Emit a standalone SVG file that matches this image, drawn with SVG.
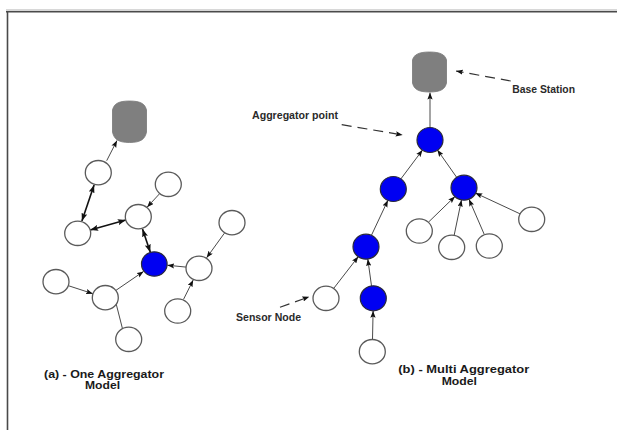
<svg xmlns="http://www.w3.org/2000/svg" width="617" height="430" viewBox="0 0 617 430">
  <style>
    .frame { stroke: #4a4a4a; stroke-width: 1.6; fill: none; }
    .frame-hi { stroke: #b0b0b0; stroke-width: 1; fill: none; }
    .sensor { fill: #ffffff; stroke: #5a5a5a; stroke-width: 1.3; }
    .agg { fill: #0000f2; stroke: #2a2a3a; stroke-width: 1.2; }
    .base { fill: #7f7f7f; stroke: #777777; stroke-width: 0.8; }
    .link { stroke: #4a4a4a; stroke-width: 1; fill: none; marker-end: url(#tip); }
    .duplex { stroke: #111111; stroke-width: 1.6; fill: none; marker-start: url(#tipb); marker-end: url(#tipb); }
    .pointer { stroke: #333333; stroke-width: 1.2; fill: none; stroke-dasharray: 10 6; marker-end: url(#tip); }
    .label { font-family: "Liberation Sans", Arial, sans-serif; font-weight: bold; font-size: 10.3px; fill: #2a2a2a; }
    .caption { font-family: "Liberation Sans", Arial, sans-serif; font-weight: bold; font-size: 10.6px; fill: #1a1a1a; }
  </style>
  <defs>
    <marker id="tip" viewBox="0 0 8 6" refX="8" refY="3" markerWidth="7" markerHeight="5.5" markerUnits="userSpaceOnUse" orient="auto">
      <path d="M0,0 L8,3 L0,6 L1.5,3 z" fill="#111111"/>
    </marker>
    <marker id="tipb" viewBox="0 0 8 6" refX="8" refY="3" markerWidth="8" markerHeight="6" markerUnits="userSpaceOnUse" orient="auto-start-reverse">
      <path d="M0,0 L8,3 L0,6 L1.5,3 z" fill="#111111"/>
    </marker>
  </defs>

  <rect width="617" height="430" fill="#ffffff"/>

  <!-- page frame -->
  <g id="frame">
    <line class="frame-hi" x1="6" y1="10" x2="617" y2="10"/>
    <line class="frame" x1="6" y1="11.8" x2="617" y2="11.8"/>
    <line class="frame" x1="7.5" y1="11" x2="7.5" y2="430"/>
  </g>

  <!-- connectors -->
  <g id="connectors">
    <!-- (a) one aggregator -->
    <line class="link" x1="106.7" y1="160.7" x2="117" y2="140.5"/>
    <line class="duplex" x1="94.1" y1="185.0" x2="81.9" y2="221.0"/>
    <line class="duplex" x1="90.2" y1="229.9" x2="125.8" y2="220.1"/>
    <line class="duplex" x1="142.5" y1="229.0" x2="150.3" y2="252.2"/>
    <line class="link" x1="159.5" y1="193.8" x2="147.1" y2="207.2"/>
    <line class="link" x1="224.4" y1="233.2" x2="206.6" y2="257.8"/>
    <line class="link" x1="186" y1="267.1" x2="167.3" y2="265.2"/>
    <line class="link" x1="68.4" y1="285.7" x2="92.9" y2="293.7"/>
    <line class="link" x1="116" y1="290.3" x2="143.6" y2="271.4"/>
    <line class="link" x1="183.5" y1="299.4" x2="193.2" y2="280"/>
    <line class="link" x1="122.3" y1="328" x2="111.7" y2="286.3"/>

    <!-- (b) multi aggregator -->
    <line class="link" x1="430" y1="127.5" x2="430" y2="92.5"/>
    <line class="link" x1="400.8" y1="179" x2="422.5" y2="150"/>
    <line class="link" x1="456.8" y1="177.5" x2="437.3" y2="149.8"/>
    <line class="link" x1="371.4" y1="235.4" x2="387.9" y2="200.3"/>
    <line class="link" x1="333.7" y1="288.4" x2="358.3" y2="256.6"/>
    <line class="link" x1="371.5" y1="285.9" x2="367.8" y2="259.1"/>
    <line class="link" x1="372.5" y1="339.2" x2="373.1" y2="310.8"/>
    <line class="link" x1="428.3" y1="222.3" x2="455" y2="196.4"/>
    <line class="link" x1="454.2" y1="235.1" x2="461.5" y2="199.9"/>
    <line class="link" x1="484.3" y1="234.5" x2="469" y2="199.2"/>
    <line class="link" x1="520.4" y1="214" x2="475.3" y2="193"/>

    <!-- callout pointers -->
    <line class="pointer" x1="510.7" y1="81" x2="456" y2="71"/>
    <line class="pointer" x1="341.7" y1="124.7" x2="402.7" y2="135"/>
    <line class="pointer" x1="280" y1="307.3" x2="309.3" y2="296.7"/>
  </g>

  <!-- (a) one aggregator model -->
  <g id="a-base">
    <path class="base" d="M112.5,110 C114,104 118,101 129.5,101 C141,101 145,104 146.5,110 V132 C145,139 141,142.5 129.5,142.5 C118,142.5 114,139 112.5,132 Z"/>
  </g>
  <g id="a-n1"><ellipse class="sensor" cx="98.3" cy="172.7" rx="13" ry="12.2"/></g>
  <g id="a-n2"><ellipse class="sensor" cx="77.7" cy="233.3" rx="13" ry="12.2"/></g>
  <g id="a-n3"><ellipse class="sensor" cx="138.3" cy="216.7" rx="13" ry="12.2"/></g>
  <g id="a-n4"><ellipse class="sensor" cx="168.3" cy="184.3" rx="13" ry="12.2"/></g>
  <g id="a-n5"><ellipse class="sensor" cx="232" cy="222.7" rx="13" ry="12.2"/></g>
  <g id="a-agg"><ellipse class="agg" cx="154.3" cy="264" rx="12.8" ry="12.2"/></g>
  <g id="a-n6"><ellipse class="sensor" cx="199" cy="268.3" rx="13" ry="12.2"/></g>
  <g id="a-n7"><ellipse class="sensor" cx="56" cy="281.7" rx="13" ry="12.2"/></g>
  <g id="a-n8"><ellipse class="sensor" cx="105.3" cy="297.7" rx="13" ry="12.2"/></g>
  <g id="a-n9"><ellipse class="sensor" cx="177.7" cy="311" rx="13" ry="12.2"/></g>
  <g id="a-n10"><ellipse class="sensor" cx="128.7" cy="339.3" rx="13" ry="12.2"/></g>
  <g id="a-caption">
    <text class="caption" x="44" y="377.7" textLength="120" lengthAdjust="spacingAndGlyphs">(a) - One Aggregator</text>
    <text class="caption" x="85" y="389" textLength="35" lengthAdjust="spacingAndGlyphs">Model</text>
  </g>

  <!-- (b) multi aggregator model -->
  <g id="b-base">
    <path class="base" d="M412.5,60 C414,55 418,52 429.5,52 C441,52 445,55 446.5,60 V83 C445,89 441,92 429.5,92 C418,92 414,89 412.5,83 Z"/>
  </g>
  <g id="b-agg-top"><ellipse class="agg" cx="430" cy="140" rx="13" ry="12.5"/></g>
  <g id="b-agg-left"><ellipse class="agg" cx="393.3" cy="189" rx="13" ry="12.5"/></g>
  <g id="b-agg-right"><ellipse class="agg" cx="464" cy="187.7" rx="13" ry="12.5"/></g>
  <g id="b-agg-mid"><ellipse class="agg" cx="366" cy="246.7" rx="13" ry="12.5"/></g>
  <g id="b-agg-low"><ellipse class="agg" cx="373.3" cy="298.3" rx="13" ry="12.5"/></g>
  <g id="b-s1"><ellipse class="sensor" cx="326" cy="298.3" rx="13" ry="12.2"/></g>
  <g id="b-s2"><ellipse class="sensor" cx="372.3" cy="351.7" rx="13" ry="12.2"/></g>
  <g id="b-s3"><ellipse class="sensor" cx="419.3" cy="231" rx="13" ry="12.2"/></g>
  <g id="b-s4"><ellipse class="sensor" cx="451.7" cy="247.3" rx="13" ry="12.2"/></g>
  <g id="b-s5"><ellipse class="sensor" cx="489.3" cy="246" rx="13" ry="12.2"/></g>
  <g id="b-s6"><ellipse class="sensor" cx="531.7" cy="219.3" rx="13" ry="12.2"/></g>
  <g id="b-labels">
    <text class="label" x="512.3" y="93.3" textLength="62.7" lengthAdjust="spacingAndGlyphs">Base Station</text>
    <text class="label" x="252" y="118.7" textLength="86" lengthAdjust="spacingAndGlyphs">Aggregator point</text>
    <text class="label" x="236" y="320.7" textLength="65" lengthAdjust="spacingAndGlyphs">Sensor Node</text>
  </g>
  <g id="b-caption">
    <text class="caption" x="398.3" y="373" textLength="131" lengthAdjust="spacingAndGlyphs">(b) - Multi Aggregator</text>
    <text class="caption" x="441.7" y="384.5" textLength="35.3" lengthAdjust="spacingAndGlyphs">Model</text>
  </g>
</svg>
